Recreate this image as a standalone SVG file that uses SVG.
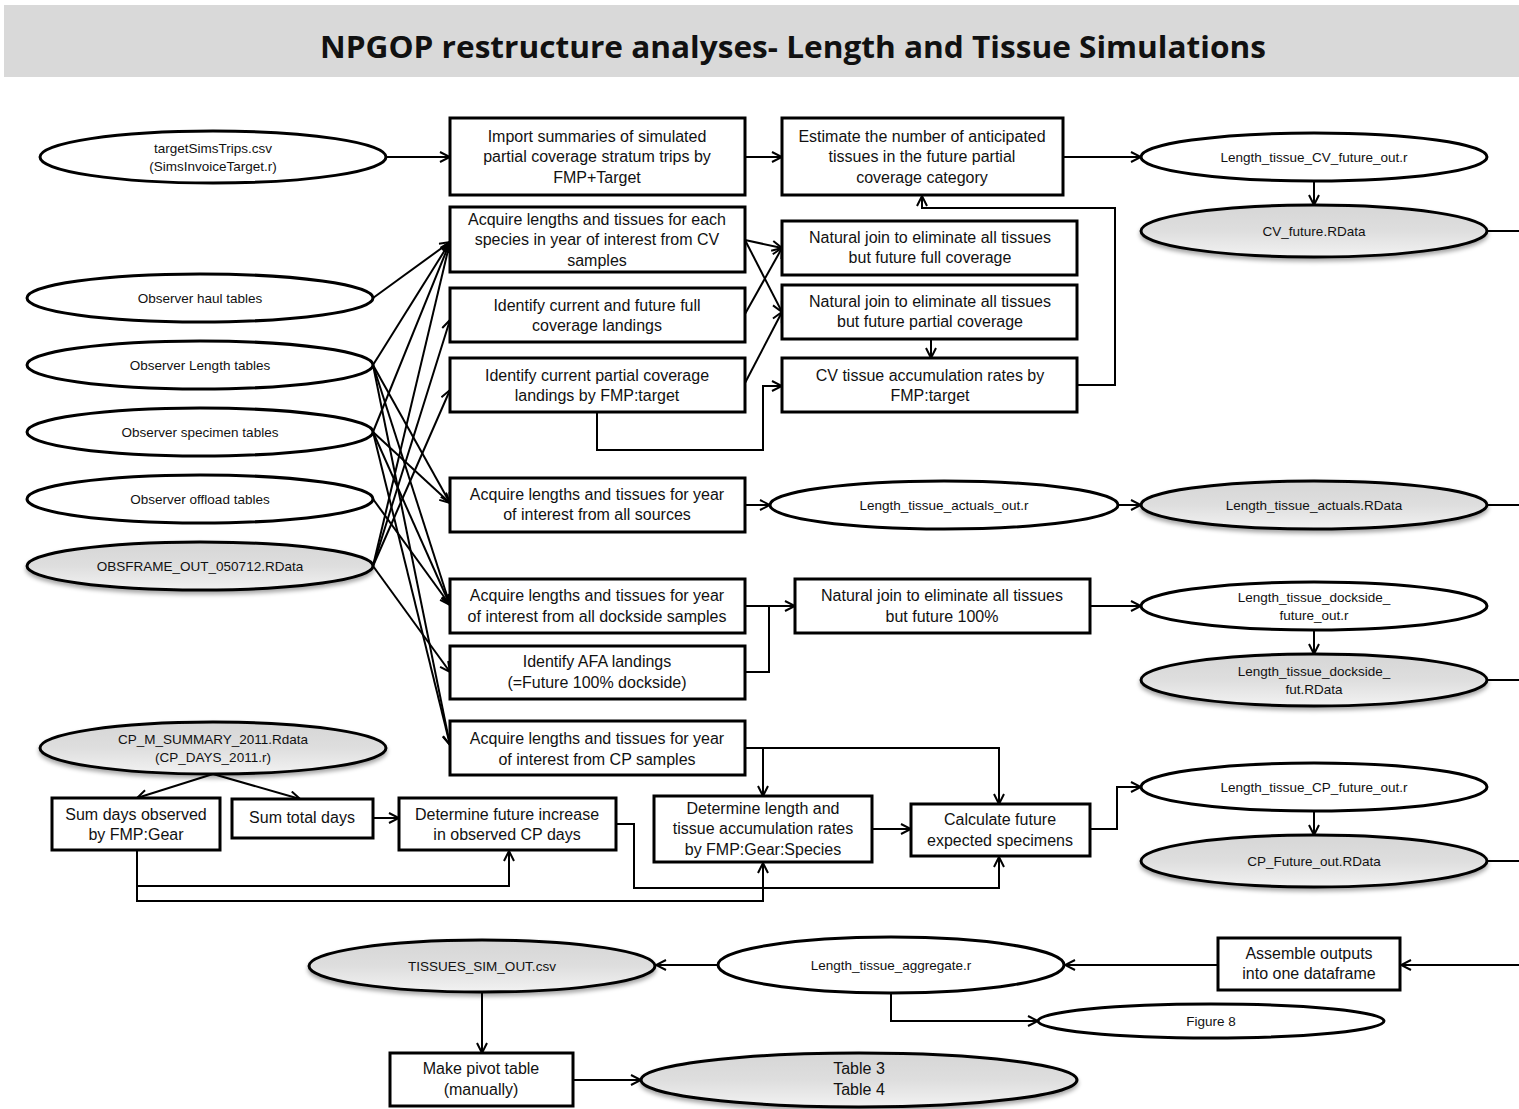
<svg xmlns="http://www.w3.org/2000/svg" width="1519" height="1109" viewBox="0 0 1519 1109">
<defs>
<style>
.box{fill:#fff;stroke:#000;stroke-width:3}
.ell{fill:#fff;stroke:#000;stroke-width:3}
.gell{fill:url(#gg);stroke:#000;stroke-width:3;filter:url(#sh)}
text{font-family:"Liberation Sans",Arial,sans-serif;fill:#111;text-anchor:middle}
.t15{font-size:16px}
.t13{font-size:13.5px}
.c{fill:none;stroke:#000;stroke-width:2}
.a{fill:none;stroke:#000;stroke-width:2;marker-end:url(#ar)}
</style>
<linearGradient id="gg" x1="0" y1="0" x2="0" y2="1">
<stop offset="0" stop-color="#d6d6d6"/>
<stop offset="0.5" stop-color="#dedede"/>
<stop offset="1" stop-color="#f2f2f2"/>
</linearGradient>
<filter id="sh" x="-10%" y="-30%" width="120%" height="170%">
<feDropShadow dx="0" dy="3" stdDeviation="2" flood-color="#000" flood-opacity="0.35"/>
</filter>
<marker id="ar" viewBox="0 0 12 12" refX="11" refY="6" markerWidth="12" markerHeight="12" markerUnits="userSpaceOnUse" orient="auto">
<path d="M1,1 L11,6 L1,11" fill="none" stroke="#000" stroke-width="2"/>
</marker>
</defs>
<rect x="0" y="0" width="1519" height="1109" fill="#fff"/>
<g id="title">
<rect x="4" y="5" width="1515" height="72" fill="#d9d9d9"/>
<text x="793" y="58" style="font-size:31px;font-weight:bold;font-family:'Open Sans','Liberation Sans',sans-serif" textLength="946" lengthAdjust="spacingAndGlyphs">NPGOP restructure analyses- Length and Tissue Simulations</text>
</g>
<g id="connectors">
<path class="a" d="M386,157 H450"/>
<path class="a" d="M745,157 H782"/>
<path class="a" d="M1063,157 H1141"/>
<path class="a" d="M1314,181 V205"/>
<path class="a" d="M1077,385 H1115 V208 H922 V196"/>
<path class="a" d="M931,339 V358"/>
<path class="a" d="M745,240 L782,248"/>
<path class="a" d="M745,240 L782,312"/>
<path class="a" d="M745,314 L782,248"/>
<path class="a" d="M745,383 L782,312"/>
<path class="a" d="M597,412 V450 H763 V386 H782"/>
<path class="a" d="M745,505 H770"/>
<path class="a" d="M1118,505 H1141"/>
<path class="a" d="M745,606 H795"/>
<path class="c" d="M745,672 H769 V606"/>
<path class="a" d="M1090,606 H1141"/>
<path class="a" d="M1314,630 V654"/>
<path class="a" d="M745,748 H763 V796"/>
<path class="a" d="M763,748 H999 V804"/>
<path class="a" d="M872,829 H911"/>
<path class="a" d="M1090,829 H1117 V787 H1141"/>
<path class="a" d="M1314,811 V835"/>
<path class="c" d="M1487,231 H1519"/>
<path class="c" d="M1487,505 H1519"/>
<path class="c" d="M1487,680 H1519"/>
<path class="c" d="M1487,861 H1519"/>
<path class="a" d="M213,774 L137,798"/>
<path class="a" d="M213,774 L300,799"/>
<path class="a" d="M373,818 H399"/>
<path class="a" d="M137,850 V886 H509 V851"/>
<path class="a" d="M137,886 V901 H763 V863"/>
<path class="a" d="M616,824 H634 V888 H999 V857"/>
<path class="a" d="M1519,965 H1401"/>
<path class="a" d="M1218,965 H1065"/>
<path class="a" d="M718,965 H656"/>
<path class="a" d="M891,993 V1021 H1038"/>
<path class="a" d="M482,992 V1053"/>
<path class="a" d="M573,1080 H641"/>
<path class="a" d="M373,298 L450,242"/>
<path class="a" d="M373,365 L450,242"/>
<path class="a" d="M373,432 L450,242"/>
<path class="a" d="M373,566 L450,242"/>
<path class="a" d="M373,566 L450,320"/>
<path class="a" d="M373,566 L450,390"/>
<path class="a" d="M373,365 L450,503"/>
<path class="a" d="M373,432 L450,503"/>
<path class="a" d="M373,365 L450,605"/>
<path class="a" d="M373,432 L450,605"/>
<path class="a" d="M373,499 L450,605"/>
<path class="a" d="M373,566 L450,672"/>
<path class="a" d="M373,365 L450,745"/>
<path class="a" d="M373,432 L450,745"/>
</g>
<g id="n-targetSims"><ellipse class="ell" cx="213" cy="157" rx="173" ry="26"/><text class="t13" x="213" y="153">targetSimsTrips.csv</text><text class="t13" x="213" y="171">(SimsInvoiceTarget.r)</text></g>
<g id="n-haul"><ellipse class="ell" cx="200" cy="298" rx="173" ry="24"/><text class="t13" x="200" y="303">Observer haul tables</text></g>
<g id="n-length"><ellipse class="ell" cx="200" cy="365" rx="173" ry="24"/><text class="t13" x="200" y="370">Observer Length tables</text></g>
<g id="n-specimen"><ellipse class="ell" cx="200" cy="432" rx="173" ry="24"/><text class="t13" x="200" y="437">Observer specimen tables</text></g>
<g id="n-offload"><ellipse class="ell" cx="200" cy="499" rx="173" ry="24"/><text class="t13" x="200" y="504">Observer offload tables</text></g>
<g id="n-obsframe"><ellipse class="gell" cx="200" cy="566" rx="173" ry="24"/><text class="t13" x="200" y="571">OBSFRAME_OUT_050712.RData</text></g>
<g id="n-import"><rect class="box" x="450" y="118" width="295" height="77"/><text class="t15" x="597" y="142">Import  summaries of simulated</text><text class="t15" x="597" y="162">partial coverage stratum trips by</text><text class="t15" x="597" y="183">FMP+Target</text></g>
<g id="n-acqcv"><rect class="box" x="450" y="207" width="295" height="65"/><text class="t15" x="597" y="225">Acquire lengths and tissues for each</text><text class="t15" x="597" y="245">species in year of interest from CV</text><text class="t15" x="597" y="266">samples</text></g>
<g id="n-idfull"><rect class="box" x="450" y="288" width="295" height="54"/><text class="t15" x="597" y="311">Identify current and future full</text><text class="t15" x="597" y="331">coverage landings</text></g>
<g id="n-idpart"><rect class="box" x="450" y="358" width="295" height="54"/><text class="t15" x="597" y="381">Identify current partial coverage</text><text class="t15" x="597" y="401">landings by FMP:target</text></g>
<g id="n-acqall"><rect class="box" x="450" y="478" width="295" height="54"/><text class="t15" x="597" y="500">Acquire lengths and tissues for year</text><text class="t15" x="597" y="520">of interest from all sources</text></g>
<g id="n-acqdock"><rect class="box" x="450" y="579" width="295" height="54"/><text class="t15" x="597" y="601">Acquire lengths and tissues for year</text><text class="t15" x="597" y="622">of interest from all dockside samples</text></g>
<g id="n-afa"><rect class="box" x="450" y="646" width="295" height="53"/><text class="t15" x="597" y="667">Identify AFA landings</text><text class="t15" x="597" y="688">(=Future 100% dockside)</text></g>
<g id="n-acqcp"><rect class="box" x="450" y="721" width="295" height="54"/><text class="t15" x="597" y="744">Acquire lengths and tissues for year</text><text class="t15" x="597" y="765">of interest from CP samples</text></g>
<g id="n-estimate"><rect class="box" x="782" y="118" width="281" height="77"/><text class="t15" x="922" y="142">Estimate the number of anticipated</text><text class="t15" x="922" y="162">tissues in the future partial</text><text class="t15" x="922" y="183">coverage category</text></g>
<g id="n-njfull"><rect class="box" x="782" y="221" width="295" height="54"/><text class="t15" x="930" y="243">Natural join to eliminate all tissues</text><text class="t15" x="930" y="263">but future full coverage</text></g>
<g id="n-njpart"><rect class="box" x="782" y="285" width="295" height="54"/><text class="t15" x="930" y="307">Natural join to eliminate all tissues</text><text class="t15" x="930" y="327">but future partial  coverage</text></g>
<g id="n-cvrates"><rect class="box" x="782" y="358" width="295" height="54"/><text class="t15" x="930" y="381">CV tissue accumulation rates by</text><text class="t15" x="930" y="401">FMP:target</text></g>
<g id="n-cvout"><ellipse class="ell" cx="1314" cy="157" rx="173" ry="24"/><text class="t13" x="1314" y="162">Length_tissue_CV_future_out.r</text></g>
<g id="n-cvdata"><ellipse class="gell" cx="1314" cy="231" rx="173" ry="26"/><text class="t13" x="1314" y="236">CV_future.RData</text></g>
<g id="n-actout"><ellipse class="ell" cx="944" cy="505" rx="174" ry="24"/><text class="t13" x="944" y="510">Length_tissue_actuals_out.r</text></g>
<g id="n-actdata"><ellipse class="gell" cx="1314" cy="505" rx="173" ry="24"/><text class="t13" x="1314" y="510">Length_tissue_actuals.RData</text></g>
<g id="n-nj100"><rect class="box" x="795" y="579" width="295" height="54"/><text class="t15" x="942" y="601">Natural join to eliminate all tissues</text><text class="t15" x="942" y="622">but future 100%</text></g>
<g id="n-dockout"><ellipse class="ell" cx="1314" cy="606" rx="173" ry="24"/><text class="t13" x="1314" y="602">Length_tissue_dockside_</text><text class="t13" x="1314" y="620">future_out.r</text></g>
<g id="n-dockdata"><ellipse class="gell" cx="1314" cy="680" rx="173" ry="26"/><text class="t13" x="1314" y="676">Length_tissue_dockside_</text><text class="t13" x="1314" y="694">fut.RData</text></g>
<g id="n-cpsum"><ellipse class="gell" cx="213" cy="748" rx="173" ry="26"/><text class="t13" x="213" y="744">CP_M_SUMMARY_2011.Rdata</text><text class="t13" x="213" y="762">(CP_DAYS_2011.r)</text></g>
<g id="n-sumobs"><rect class="box" x="52" y="798" width="168" height="52"/><text class="t15" x="136" y="820">Sum days observed</text><text class="t15" x="136" y="840">by FMP:Gear</text></g>
<g id="n-sumtot"><rect class="box" x="232" y="799" width="141" height="39"/><text class="t15" x="302" y="823">Sum total days</text></g>
<g id="n-detinc"><rect class="box" x="399" y="798" width="217" height="52"/><text class="t15" x="507" y="820">Determine future increase</text><text class="t15" x="507" y="840">in observed CP days</text></g>
<g id="n-detrate"><rect class="box" x="654" y="796" width="218" height="66"/><text class="t15" x="763" y="814">Determine length and</text><text class="t15" x="763" y="834">tissue accumulation rates</text><text class="t15" x="763" y="855">by FMP:Gear:Species</text></g>
<g id="n-calc"><rect class="box" x="911" y="804" width="179" height="52"/><text class="t15" x="1000" y="825">Calculate future</text><text class="t15" x="1000" y="846">expected specimens</text></g>
<g id="n-cpout"><ellipse class="ell" cx="1314" cy="787" rx="173" ry="24"/><text class="t13" x="1314" y="792">Length_tissue_CP_future_out.r</text></g>
<g id="n-cpdata"><ellipse class="gell" cx="1314" cy="861" rx="173" ry="26"/><text class="t13" x="1314" y="866">CP_Future_out.RData</text></g>
<g id="n-assemble"><rect class="box" x="1218" y="938" width="182" height="52"/><text class="t15" x="1309" y="959">Assemble outputs</text><text class="t15" x="1309" y="979">into one dataframe</text></g>
<g id="n-aggr"><ellipse class="ell" cx="891" cy="965" rx="173" ry="28"/><text class="t13" x="891" y="970">Length_tissue_aggregate.r</text></g>
<g id="n-tissues"><ellipse class="gell" cx="482" cy="966" rx="173" ry="26"/><text class="t13" x="482" y="971">TISSUES_SIM_OUT.csv</text></g>
<g id="n-fig8"><ellipse class="ell" cx="1211" cy="1021" rx="173" ry="17"/><text class="t13" x="1211" y="1026">Figure 8</text></g>
<g id="n-pivot"><rect class="box" x="390" y="1053" width="183" height="53"/><text class="t15" x="481" y="1074">Make pivot table</text><text class="t15" x="481" y="1095">(manually)</text></g>
<g id="n-tables"><ellipse class="gell" cx="859" cy="1080" rx="218" ry="27"/><text class="t15" x="859" y="1074">Table 3</text><text class="t15" x="859" y="1095">Table 4</text></g>
</svg>
